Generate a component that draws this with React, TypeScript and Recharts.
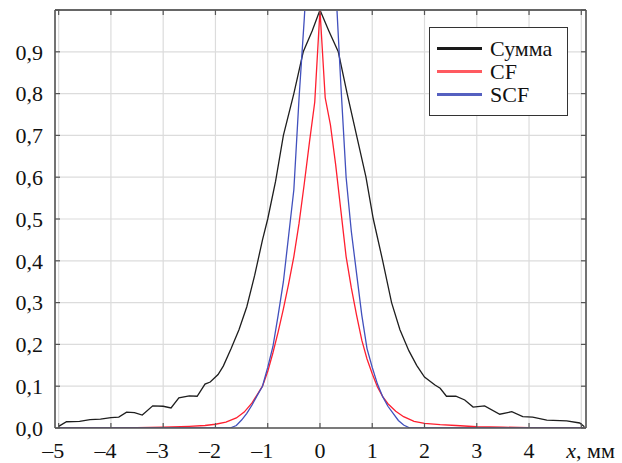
import React from 'react';
import { LineChart, Line, XAxis, YAxis, CartesianGrid } from 'recharts';

const seriesNames = ['Сумма', 'CF', 'SCF'];
const seriesColors = ['#1e1e1e', '#ff1f2f', '#4150bd'];
const legendColors = ['#1a1a1a', '#ff5a60', '#5560c0'];

const xTicks = [-5, -4, -3, -2, -1, 0, 1, 2, 3, 4, 5];
const xTickLabels = ['–5', '–4', '–3', '–2', '–1', '0', '1', '2', '3', '4', ''];
const xAxisTitleVar = 'x';
const xAxisTitleUnit = ', мм';
const yTicks = [0, 0.1, 0.2, 0.3, 0.4, 0.5, 0.6, 0.7, 0.8, 0.9, 1.0];
const yTickLabels = ['0,0', '0,1', '0,2', '0,3', '0,4', '0,5', '0,6', '0,7', '0,8', '0,9', ''];

// Сумма
const sumX = [-5.0, -4.85, -4.6, -4.4, -4.2, -4.0, -3.85, -3.7, -3.55, -3.4, -3.2, -3.0, -2.85, -2.7, -2.5, -2.35, -2.2, -2.1, -1.95, -1.85, -1.7, -1.55, -1.4, -1.25, -1.1, -1.0, -0.85, -0.7, -0.5, -0.32, -0.15, 0, 0.17, 0.35, 0.52, 0.7, 0.88, 1.02, 1.2, 1.37, 1.53, 1.7, 1.85, 2.0, 2.2, 2.3, 2.42, 2.6, 2.77, 2.93, 3.15, 3.44, 3.67, 3.88, 4.07, 4.34, 4.72, 4.97, 5.06];
const sumY = [0.004, 0.015, 0.016, 0.02, 0.021, 0.025, 0.026, 0.038, 0.037, 0.031, 0.053, 0.052, 0.048, 0.072, 0.077, 0.076, 0.105, 0.11, 0.128, 0.148, 0.19, 0.235, 0.29, 0.365, 0.45, 0.5, 0.59, 0.7, 0.8, 0.9, 0.95, 1.0, 0.95, 0.9, 0.8, 0.7, 0.6, 0.5, 0.4, 0.3, 0.235, 0.185, 0.15, 0.122, 0.103, 0.095, 0.076, 0.076, 0.067, 0.05, 0.053, 0.033, 0.039, 0.027, 0.026, 0.019, 0.017, 0.012, 0.003];

// CF
const cfX = [-5.0, -4.0, -3.5, -3.0, -2.5, -2.2, -2.0, -1.8, -1.6, -1.45, -1.3, -1.2, -1.1, -1.0, -0.9, -0.8, -0.7, -0.6, -0.5, -0.4, -0.3, -0.2, -0.1, 0, 0.1, 0.2, 0.3, 0.4, 0.5, 0.6, 0.7, 0.8, 0.9, 1.0, 1.1, 1.2, 1.3, 1.45, 1.6, 1.8, 2.0, 2.3, 2.6, 3.0, 3.5, 4.0, 5.06];
const cfY = [0, 0, 0.001, 0.002, 0.004, 0.006, 0.009, 0.014, 0.024, 0.038, 0.06, 0.08, 0.1, 0.135, 0.18, 0.23, 0.285, 0.345, 0.41, 0.49, 0.585, 0.685, 0.78, 1.0, 0.79, 0.725, 0.63, 0.52, 0.41, 0.335, 0.27, 0.21, 0.165, 0.13, 0.098, 0.075, 0.058, 0.04, 0.027, 0.016, 0.011, 0.008, 0.006, 0.003, 0.002, 0.001, 0];

// SCF
const scfX = [-5.0, -1.72, -1.6, -1.5, -1.4, -1.3, -1.2, -1.1, -1.0, -0.9, -0.8, -0.7, -0.6, -0.5, -0.4, -0.3, -0.2, -0.1, 0, 0.1, 0.2, 0.3, 0.4, 0.5, 0.6, 0.7, 0.8, 0.9, 1.0, 1.1, 1.2, 1.3, 1.4, 1.5, 1.6, 1.72, 5.06];
const scfY = [0, 0, 0.006, 0.019, 0.035, 0.055, 0.078, 0.1, 0.145, 0.195, 0.27, 0.35, 0.46, 0.57, 0.79, 0.98, 1.2, 1.4, 1.6, 1.4, 1.24, 1.06, 0.82, 0.6, 0.47, 0.37, 0.27, 0.19, 0.145, 0.105, 0.075, 0.052, 0.035, 0.018, 0.007, 0, 0];

const sumData = sumX.map((x, i) => ({ x, y: sumY[i] }));
const cfData = cfX.map((x, i) => ({ x, y: cfY[i] }));
const scfData = scfX.map((x, i) => ({ x, y: scfY[i] }));
const seriesData = [sumData, cfData, scfData];

const FONT = '"Liberation Serif", "Times New Roman", serif';
const FRAME = '#555555';
const TICK_LEN = 5;

const BottomTick = (props: any) => {
  const { x, y, payload } = props;
  const idx = xTicks.indexOf(payload.value);
  const label = idx >= 0 ? xTickLabels[idx] : '';
  const isLast = payload.value === xTicks[xTicks.length - 1];
  return (
    <g>
      <line x1={x} y1={y} x2={x} y2={y - TICK_LEN} stroke={FRAME} strokeWidth={1.2} />
      {label && (
        <text x={x + 5.5} y={y + 30} textAnchor="end" fontFamily={FONT} fontSize={22} fill="#111">
          {label}
        </text>
      )}
      {isLast && (
        <text x={x - 15} y={y + 30} textAnchor="start" fontFamily={FONT} fontSize={22} fill="#111">
          <tspan fontStyle="italic">{xAxisTitleVar}</tspan>
          <tspan>{xAxisTitleUnit}</tspan>
        </text>
      )}
    </g>
  );
};

const TopTick = (props: any) => {
  const { x, y } = props;
  return <line x1={x} y1={y} x2={x} y2={y + TICK_LEN} stroke={FRAME} strokeWidth={1.2} />;
};

const LeftTick = (props: any) => {
  const { x, y, payload } = props;
  const idx = yTicks.findIndex((v) => Math.abs(v - payload.value) < 1e-9);
  const label = idx >= 0 ? yTickLabels[idx] : '';
  return (
    <g>
      <line x1={x} y1={y} x2={x + TICK_LEN} y2={y} stroke={FRAME} strokeWidth={1.2} />
      {label && (
        <text x={x - 12} y={y} dy="0.35em" textAnchor="end" fontFamily={FONT} fontSize={22} fill="#111">
          {label}
        </text>
      )}
    </g>
  );
};

const RightTick = (props: any) => {
  const { x, y } = props;
  return <line x1={x} y1={y} x2={x - TICK_LEN} y2={y} stroke={FRAME} strokeWidth={1.2} />;
};

export default function App() {
  return (
    <div style={{ position: 'absolute', left: 0, top: 0, width: 622, height: 463, background: '#fff' }}>
      <LineChart width={622} height={463} margin={{ top: 0, right: 0, bottom: 0, left: 0 }}>
        <CartesianGrid stroke="#dcdcdc" strokeWidth={1.2} />
        <XAxis
          type="number"
          dataKey="x"
          domain={[-5.07, 5.09]}
          ticks={xTicks}
          allowDataOverflow
          height={35}
          tickSize={0}
          tickMargin={0}
          tickLine={false}
          axisLine={{ stroke: FRAME, strokeWidth: 1.6 }}
          tick={<BottomTick />}
          interval={0}
        />
        <XAxis
          xAxisId="top"
          orientation="top"
          type="number"
          dataKey="x"
          domain={[-5.07, 5.09]}
          ticks={xTicks}
          allowDataOverflow
          height={10}
          tickSize={0}
          tickMargin={0}
          tickLine={false}
          axisLine={{ stroke: '#666', strokeWidth: 2 }}
          tick={<TopTick />}
          interval={0}
        />
        <YAxis
          type="number"
          domain={[0, 1]}
          ticks={yTicks}
          allowDataOverflow
          width={55}
          tickSize={0}
          tickMargin={0}
          tickLine={false}
          axisLine={{ stroke: FRAME, strokeWidth: 1.6 }}
          tick={<LeftTick />}
          interval={0}
        />
        <YAxis
          yAxisId="right"
          orientation="right"
          type="number"
          domain={[0, 1]}
          ticks={yTicks}
          allowDataOverflow
          width={36}
          tickSize={0}
          tickMargin={0}
          tickLine={false}
          axisLine={{ stroke: FRAME, strokeWidth: 1.6 }}
          tick={<RightTick />}
          interval={0}
        />
        {seriesNames.map((name, i) => (
          <Line
            key={name}
            name={name}
            data={seriesData[i]}
            dataKey="y"
            type="linear"
            stroke={seriesColors[i]}
            strokeWidth={1.3}
            dot={false}
            activeDot={false}
            isAnimationActive={false}
          />
        ))}
      </LineChart>
      <div
        style={{
          position: 'absolute',
          left: 429,
          top: 27,
          width: 139,
          height: 89,
          border: '1.5px solid #333',
          background: '#fff',
          paddingTop: 9,
          boxSizing: 'border-box',
          fontFamily: FONT,
          fontSize: 22,
          color: '#111',
        }}
      >
        {seriesNames.map((name, i) => (
          <div key={name} style={{ display: 'flex', alignItems: 'center', height: 23, lineHeight: '23px' }}>
            <div style={{ width: 45, height: 3, background: legendColors[i], marginLeft: 7, marginRight: 8 }} />
            <span>{name}</span>
          </div>
        ))}
      </div>
    </div>
  );
}
